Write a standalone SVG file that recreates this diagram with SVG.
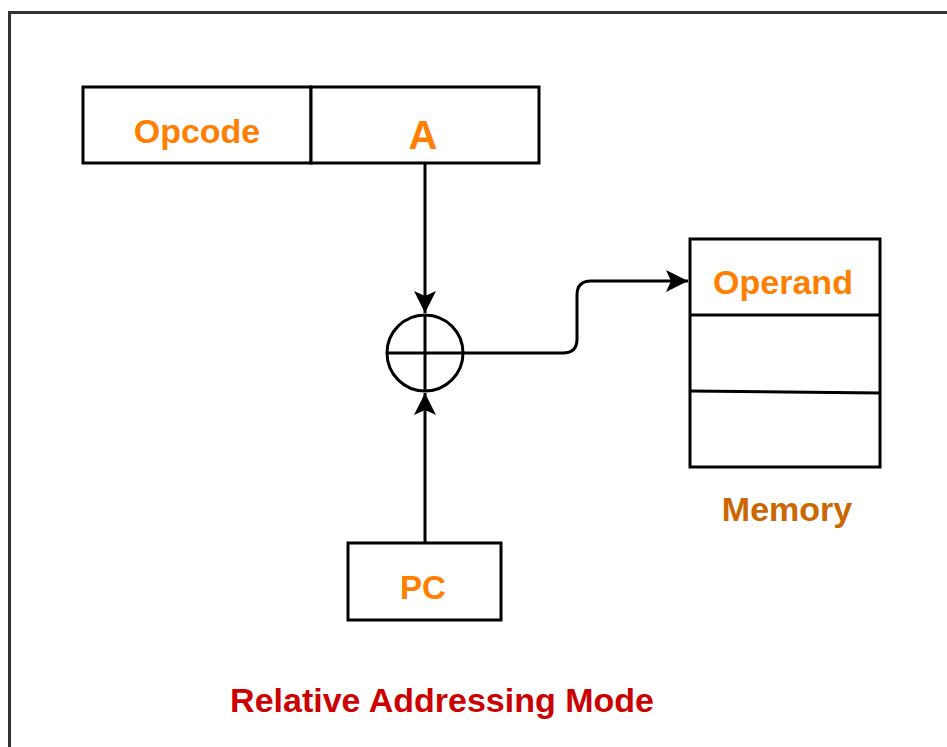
<svg xmlns="http://www.w3.org/2000/svg" width="947" height="747" viewBox="0 0 947 747">
<style>
.box{fill:#fff;stroke:#000;stroke-width:3}
.line{fill:none;stroke:#000;stroke-width:3}
.lbl{font-family:"Liberation Sans",Arial,sans-serif;font-weight:bold;fill:#ff8000;text-anchor:middle}
</style>
<defs>
<marker id="ah" viewBox="0 0 24 24" refX="23" refY="12" markerWidth="24" markerHeight="24" markerUnits="userSpaceOnUse" orient="auto">
<path d="M1,1 L23,12 L1,23 L6,12 Z" fill="#000"/>
</marker>
</defs>
<rect width="947" height="747" fill="#fff"/>
<path d="M9.5,747 V12.5 H947" fill="none" stroke="#333" stroke-width="3"/>
<g id="instruction">
<rect class="box" x="83" y="87" width="228" height="76"/>
<rect class="box" x="311" y="87" width="228" height="76"/>
<text class="lbl" x="197" y="143" font-size="34">Opcode</text>
<text class="lbl" x="423" y="149" font-size="40">A</text>
</g>
<g id="adder">
<circle cx="425" cy="353" r="38" fill="#fff" stroke="#000" stroke-width="3"/>
<line class="line" x1="387" y1="353" x2="463" y2="353"/>
<line class="line" x1="425" y1="315" x2="425" y2="391"/>
</g>
<g id="memory">
<rect class="box" x="690" y="239" width="190" height="228"/>
<line class="line" x1="690" y1="315" x2="880" y2="315"/>
<line class="line" x1="690" y1="391" x2="880" y2="393"/>
<text class="lbl" x="783" y="294" font-size="34">Operand</text>
<text class="lbl" x="787" y="521" font-size="34" style="fill:#cc6600">Memory</text>
</g>
<g id="pc">
<rect class="box" x="348" y="543" width="153" height="77"/>
<text class="lbl" x="423" y="599" font-size="33">PC</text>
</g>
<g id="title">
<text class="lbl" x="442" y="712" font-size="34" style="fill:#cc0000">Relative Addressing Mode</text>
</g>
<g id="connectors">
<path class="line" d="M425,163 V313" marker-end="url(#ah)"/>
<path class="line" d="M425,543 V393" marker-end="url(#ah)"/>
<path class="line" d="M463,353 H563 Q577,353 577,339 V295 Q577,281 591,281 H688" marker-end="url(#ah)"/>
</g>
</svg>
